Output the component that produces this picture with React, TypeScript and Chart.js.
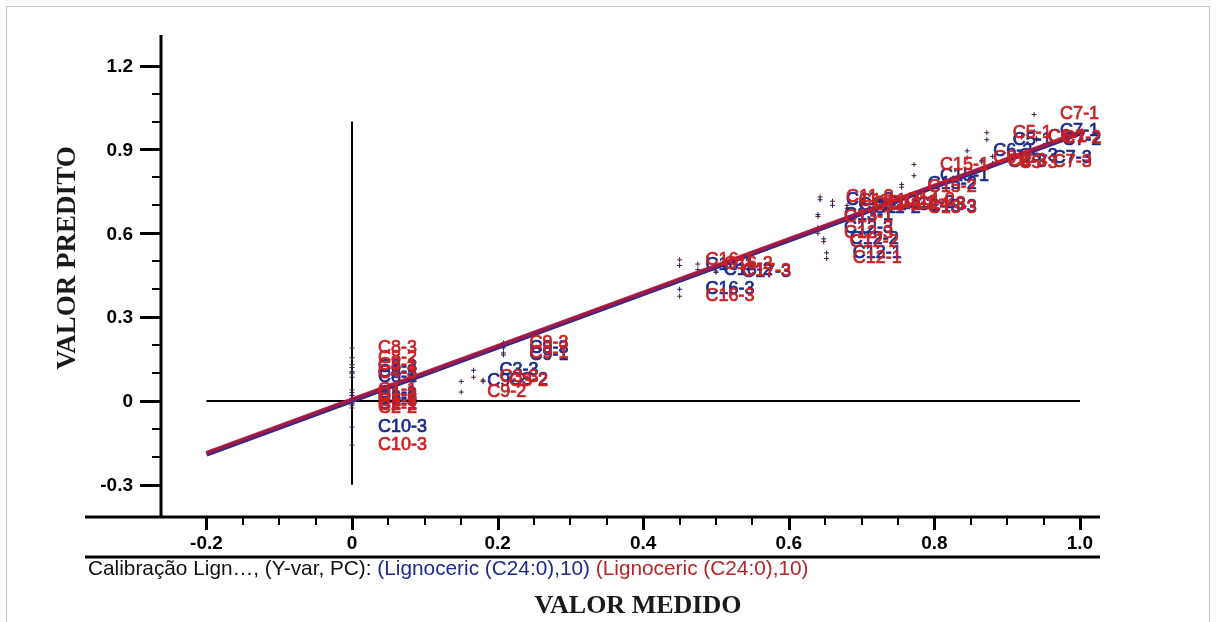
import React, { useEffect, useRef } from "react";
import { Chart, registerables } from "chart.js";

Chart.register(...registerables);

// ---------- data ----------
const sampleNames = [
  "C8-3", "C8-2", "C8-1", "C4-3", "C1-1", "C1-2", "C1-3", "C2-1", "C2-2", "C10-3",
  "C9-3", "C9-1", "C3-3", "C3-2", "C9-2",
  "C16-1", "C16-2", "C16-3", "C17-3",
  "C11-3", "C11-1", "C11-2", "C13-1", "C12-3", "C12-2", "C12-1",
  "C14-1", "C14-2", "C14-3", "C13-3", "C15-2", "C15-1",
  "C5-1", "C6-2", "C6-3", "C6-1", "C7-1", "C7-2", "C5-3", "C7-3",
];

const measuredValues = [
  0, 0, 0, 0, 0, 0, 0, 0, 0, 0,
  0.208, 0.208, 0.167, 0.18, 0.15,
  0.45, 0.475, 0.45, 0.5,
  0.643, 0.66, 0.68, 0.64, 0.64, 0.648, 0.652,
  0.7, 0.725, 0.74, 0.755, 0.755, 0.772,
  0.872, 0.845, 0.865, 0.92, 0.937, 0.94, 0.88, 0.927,
];

const predictedBlue = [
  0.12, 0.1, 0.085, 0.105, 0.03, 0.02, 0.005, -0.01, 0.01, -0.093,
  0.19, 0.165, 0.11, 0.075, 0.07,
  0.485, 0.47, 0.4, 0.46,
  0.72, 0.7, 0.69, 0.667, 0.62, 0.58, 0.53,
  0.705, 0.71, 0.7, 0.695, 0.775, 0.806,
  0.935, 0.895, 0.855, 0.945, 0.965, 0.935, 0.875, 0.87,
];

const predictedRed = [
  0.19, 0.155, 0.13, 0.1, 0.04, 0.02, 0.0, -0.015, -0.025, -0.158,
  0.208, 0.172, 0.085, 0.07, 0.032,
  0.505, 0.49, 0.375, 0.465,
  0.73, 0.715, 0.7, 0.66, 0.6, 0.57, 0.51,
  0.71, 0.72, 0.705, 0.69, 0.765, 0.846,
  0.96, 0.87, 0.86, 0.945, 1.025, 0.94, 0.85, 0.855,
];

// regression (target) lines
const fitX = [-0.2, 1.0];
const fitBlue = [-0.19, 0.958];
const fitRed = [-0.186, 0.962];

// reference lines
const zeroHLineX = [-0.2, 1.0];
const zeroVLineY = [-0.3, 1.0];

// ticks
const xMajorTicks = [-0.2, 0, 0.2, 0.4, 0.6, 0.8, 1.0];
const xTickLabels = ["-0.2", "0", "0.2", "0.4", "0.6", "0.8", "1.0"];
const xMinorTicks = [-0.15, -0.1, -0.05, 0.05, 0.1, 0.15, 0.25, 0.3, 0.35, 0.45, 0.5, 0.55, 0.65, 0.7, 0.75, 0.85, 0.9, 0.95];
const yMajorTicks = [-0.3, 0, 0.3, 0.6, 0.9, 1.2];
const yTickLabels = ["-0.3", "0", "0.3", "0.6", "0.9", "1.2"];
const yMinorTicks = [-0.2, -0.1, 0.1, 0.2, 0.4, 0.5, 0.7, 0.8, 1.0, 1.1];

const xTitle = "VALOR MEDIDO";
const yTitle = "VALOR PREDITO";
const captionParts = [
  { text: "Calibração Lign…, (Y-var, PC): ", color: "#111111" },
  { text: "(Lignoceric (C24:0),10) ", color: "#1b2a8c" },
  { text: "(Lignoceric (C24:0),10)", color: "#b52525" },
];

// ---------- styles ----------
const BLUE = "#1b2a8c";
const RED = "#cc2222";
const SANS = "'Liberation Sans', Arial, sans-serif";
const SERIF = "'Liberation Serif', 'Times New Roman', serif";

function drawLabels(chart: any, datasetIndex: number, color: string) {
  const meta = chart.getDatasetMeta(datasetIndex);
  const ctx = chart.ctx;
  ctx.save();
  ctx.font = `18px ${SANS}`;
  ctx.fillStyle = color;
  ctx.strokeStyle = color;
  ctx.lineWidth = 0.7;
  ctx.textBaseline = "middle";
  ctx.textAlign = "left";
  meta.data.forEach((el: any, i: number) => {
    ctx.fillText(sampleNames[i], el.x + 26, el.y);
    ctx.strokeText(sampleNames[i], el.x + 26, el.y);
  });
  ctx.restore();
}

const decoPlugin = {
  id: "decoPlugin",
  beforeDatasetsDraw(chart: any) {
    drawLabels(chart, 2, BLUE);
  },
  afterDatasetsDraw(chart: any) {
    drawLabels(chart, 3, RED);
  },
  afterDraw(chart: any) {
    const { ctx, chartArea: a } = chart;
    const xs = chart.scales.x;
    const ys = chart.scales.y;
    ctx.save();
    ctx.strokeStyle = "#000";
    ctx.fillStyle = "#000";
    const line = (x1: number, y1: number, x2: number, y2: number) => {
      ctx.beginPath();
      ctx.moveTo(x1, y1);
      ctx.lineTo(x2, y2);
      ctx.stroke();
    };
    // axis lines
    ctx.lineWidth = 3;
    line(a.left, a.top, a.left, a.bottom);
    const axisLeft = a.left - 76;
    line(axisLeft, a.bottom, a.right, a.bottom);
    line(axisLeft, a.bottom + 40, a.right, a.bottom + 40);

    // y ticks
    ctx.lineWidth = 3;
    yMajorTicks.forEach((v) => {
      const py = Math.round(ys.getPixelForValue(v)) + 0.5;
      line(a.left - 21, py, a.left, py);
    });
    ctx.lineWidth = 2;
    yMinorTicks.forEach((v) => {
      const py = Math.round(ys.getPixelForValue(v));
      line(a.left - 9, py, a.left, py);
    });
    ctx.font = `bold 19px ${SANS}`;
    ctx.textAlign = "right";
    ctx.textBaseline = "middle";
    yMajorTicks.forEach((v, i) => {
      ctx.fillText(yTickLabels[i], a.left - 28, ys.getPixelForValue(v) + 1);
    });

    // x ticks
    ctx.lineWidth = 3;
    xMajorTicks.forEach((v) => {
      const px = Math.round(xs.getPixelForValue(v)) + 0.5;
      line(px, a.bottom, px, a.bottom + 13);
    });
    ctx.lineWidth = 2;
    xMinorTicks.forEach((v) => {
      const px = Math.round(xs.getPixelForValue(v));
      line(px, a.bottom, px, a.bottom + 8);
    });
    ctx.textAlign = "center";
    xMajorTicks.forEach((v, i) => {
      ctx.fillText(xTickLabels[i], xs.getPixelForValue(v), a.bottom + 27);
    });

    // titles
    ctx.font = `bold 26px ${SERIF}`;
    ctx.fillStyle = "#1a1a1a";
    ctx.textAlign = "center";
    ctx.textBaseline = "middle";
    ctx.fillText(xTitle, 638, 606);
    ctx.save();
    ctx.translate(68, 258);
    ctx.rotate(-Math.PI / 2);
    ctx.font = `bold 27px ${SERIF}`;
    ctx.fillText(yTitle, 0, 0);
    ctx.restore();

    // caption
    ctx.font = `20.8px ${SANS}`;
    ctx.textAlign = "left";
    ctx.textBaseline = "middle";
    let cx = 88;
    captionParts.forEach((p) => {
      ctx.fillStyle = p.color;
      ctx.fillText(p.text, cx, 569);
      cx += ctx.measureText(p.text).width;
    });
    ctx.restore();
  },
};

export default function App() {
  const ref = useRef<HTMLCanvasElement | null>(null);

  useEffect(() => {
    if (!ref.current) return;
    const bluePts = measuredValues.map((x, i) => ({ x, y: predictedBlue[i] }));
    const redPts = measuredValues.map((x, i) => ({ x, y: predictedRed[i] }));
    const chart = new Chart(ref.current, {
      type: "scatter",
      data: {
        datasets: [
          {
            type: "line",
            data: zeroHLineX.map((x) => ({ x, y: 0 })),
            borderColor: "#000",
            borderWidth: 2,
            pointRadius: 0,
            order: 5,
          } as any,
          {
            type: "line",
            data: zeroVLineY.map((y) => ({ x: 0, y })),
            borderColor: "#000",
            borderWidth: 2,
            pointRadius: 0,
            order: 4,
          } as any,
          {
            data: bluePts,
            pointStyle: "cross",
            pointRadius: 2.5,
            borderWidth: 1,
            borderColor: "#1f1f5a",
            backgroundColor: "#1f1f5a",
            order: 3,
          },
          {
            data: redPts,
            pointStyle: "cross",
            pointRadius: 2.5,
            borderWidth: 1,
            borderColor: "#4a1f35",
            backgroundColor: "#4a1f35",
            order: 2,
          },
          {
            type: "line",
            data: fitX.map((x, i) => ({ x, y: fitBlue[i] })),
            borderColor: "#2e2a88",
            borderWidth: 5,
            pointRadius: 0,
            order: 1,
          } as any,
          {
            type: "line",
            data: fitX.map((x, i) => ({ x, y: fitRed[i] })),
            borderColor: "rgba(180,22,60,0.82)",
            borderWidth: 4,
            pointRadius: 0,
            order: 0,
          } as any,
        ],
      },
      options: {
        responsive: false,
        animation: false,
        layout: { padding: { left: 161, right: 116, top: 35, bottom: 105 } },
        scales: {
          x: { type: "linear", min: -0.2624, max: 1.0275, display: false },
          y: { type: "linear", min: -0.415, max: 1.3095, display: false },
        },
        plugins: {
          legend: { display: false },
          tooltip: { enabled: false },
        },
      },
      plugins: [decoPlugin],
    });
    return () => chart.destroy();
  }, []);

  return (
    <div style={{ position: "absolute", left: 0, top: 0, width: 1216, height: 622, background: "#fff", overflow: "hidden" }}>
      <div
        style={{
          position: "absolute",
          left: 6,
          top: 6,
          width: 1202,
          height: 620,
          borderTop: "1px solid #c4c4c4",
          borderLeft: "1px solid #c4c4c4",
          borderRight: "1px solid #c4c4c4",
        }}
      />
      <canvas ref={ref} width={1216} height={622} style={{ position: "absolute", left: 0, top: 0 }} />
    </div>
  );
}
